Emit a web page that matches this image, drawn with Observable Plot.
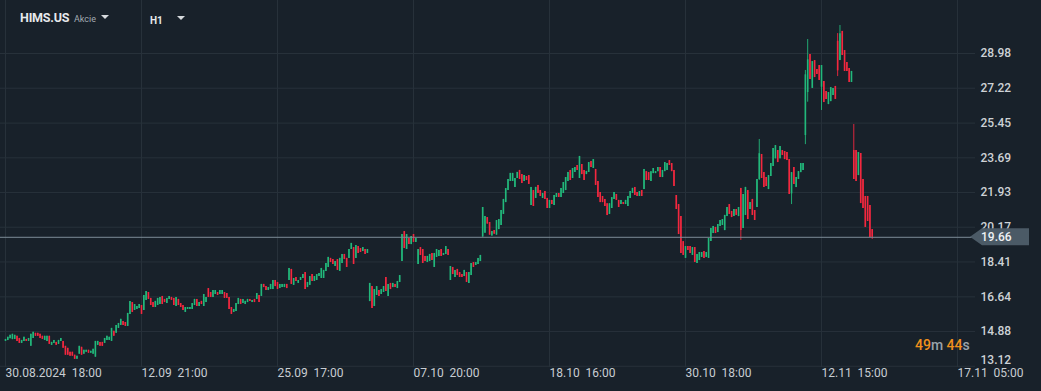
<!DOCTYPE html>
<html><head><meta charset="utf-8">
<script src="https://cdn.jsdelivr.net/npm/d3@7"></script>
<script src="https://cdn.jsdelivr.net/npm/@observablehq/plot@0.6"></script>
<style>
html,body{margin:0;padding:0;background:#18212a;}
#wrap{position:relative;width:1041px;height:391px;overflow:hidden;font-family:Roboto,"Noto Sans",sans-serif;}
#wrap .ov{position:absolute;white-space:pre;}
.sym{left:20px;top:11px;font-size:12.5px;line-height:13px;font-weight:700;color:#e6e9ec;letter-spacing:-0.2px;}
.typ{left:74px;top:14.5px;font-size:9px;line-height:9px;color:#a3abb2;}
.tf{left:150px;top:15.5px;font-size:10px;line-height:10px;font-weight:700;color:#e6e9ec;}
.tri{width:0;height:0;border-left:4px solid transparent;border-right:4px solid transparent;border-top:4px solid #d6dadd;}
.tmr{left:915px;top:338px;font-size:14px;line-height:14px;font-weight:500;color:#9aa3ab;}
.tmr b{color:#f0901c;font-weight:500;}
</style></head>
<body><div id="wrap"><div id="chart"></div>
<div class="ov sym">HIMS.US</div>
<div class="ov typ">Akcie</div>
<div class="ov tri" style="left:101px;top:15px"></div>
<div class="ov tf">H1</div>
<div class="ov tri" style="left:177px;top:16px"></div>
<div class="ov tmr"><b>49</b>m <b>44</b>s</div>
</div>
<script>
const timeTicks = [0, 59, 118, 177, 236, 295, 354, 413];
const timeLabels = ["30.08.2024\u00a0\u00a018:00","12.09\u00a0\u00a021:00","25.09\u00a0\u00a017:00","07.10\u00a0\u00a020:00","18.10\u00a0\u00a016:00","30.10\u00a0\u00a018:00","12.11\u00a0\u00a015:00","17.11\u00a0\u00a005:00"];
const priceTicks = [14.88, 16.64, 18.41, 20.17, 21.93, 23.69, 25.45, 27.22, 28.98];
const bottomTick = [13.12];

const open = [
14.38,14.42,14.52,14.47,14.48,14.64,14.53,14.28,14.38,14.48,
14.38,14.13,14.53,14.79,14.79,14.74,14.64,14.43,14.38,14.64,
14.18,14.28,14.33,14.23,14.38,14.38,14.13,14.03,13.83,13.83,
13.68,13.47,13.73,14.08,13.73,13.83,13.93,13.78,13.73,13.58,
14.18,14.33,14.33,14.28,14.43,14.43,14.38,14.89,14.79,15.04,
15.19,15.39,15.34,15.14,15.75,16.35,15.95,16.00,16.05,16.20,
15.95,16.46,16.86,16.56,16.35,16.10,16.20,16.25,16.66,16.51,
16.30,16.51,16.61,16.56,16.15,16.51,16.30,16.20,15.85,16.00,
16.00,16.00,16.20,16.51,16.15,16.41,16.15,16.35,17.06,16.86,
16.61,16.76,16.86,16.76,16.76,16.86,16.81,16.61,16.10,15.85,
15.90,16.25,16.51,16.30,16.25,16.35,16.51,16.35,16.51,16.51,
16.71,16.66,17.27,17.16,16.96,17.01,17.01,17.47,17.37,17.06,
17.11,17.11,17.27,17.47,18.03,17.22,17.62,17.32,17.47,17.57,
17.87,17.11,17.22,17.77,17.42,17.47,17.67,17.57,17.57,17.93,
18.13,18.59,18.53,18.18,18.53,17.93,18.33,18.79,18.59,18.59,
19.04,19.14,18.59,19.19,19.09,18.94,19.04,18.84,16.40,17.16,
16.15,16.71,16.96,16.76,16.86,17.62,16.66,17.32,17.11,17.27,
17.06,17.37,18.43,19.95,19.04,19.60,19.29,19.80,19.40,18.28,
19.14,19.04,18.69,18.38,18.43,18.84,18.13,18.64,18.69,19.04,
18.74,18.79,19.04,17.47,18.13,17.62,18.03,17.87,17.77,17.67,
17.87,17.32,17.72,18.38,18.23,18.28,18.43,19.67,19.87,20.66,
20.41,19.72,20.00,19.77,20.05,20.26,20.82,21.42,22.03,22.49,
22.49,22.19,22.64,23.05,22.84,22.49,22.74,22.79,21.27,22.03,
21.63,22.29,22.03,21.63,21.98,21.63,21.12,21.53,21.27,21.68,
21.88,21.68,21.88,22.03,22.49,23.05,22.64,22.95,23.30,22.64,
23.35,23.05,22.84,22.95,23.50,23.15,23.10,22.49,21.93,21.73,
21.58,21.36,20.82,21.12,21.58,21.83,21.53,21.32,21.42,21.32,
21.22,21.63,21.88,22.19,21.93,21.73,22.03,22.08,22.99,22.94,
22.49,22.89,22.89,22.99,23.20,22.69,22.99,23.05,23.55,23.40,
23.05,21.78,21.32,20.71,19.44,18.59,19.19,19.19,18.74,19.14,
18.33,18.48,18.64,18.94,18.64,18.59,19.45,19.85,20.16,19.90,
20.21,20.26,20.00,20.71,21.32,20.97,20.71,21.07,20.71,22.14,
20.11,20.77,22.03,21.07,21.58,21.02,21.17,22.59,23.86,22.94,
22.69,22.08,22.74,23.25,23.64,24.06,23.64,24.06,24.01,23.96,
23.60,21.86,23.20,22.18,22.59,22.94,23.05,24.82,27.00,28.93,
27.21,28.62,28.17,28.37,27.27,27.56,27.05,26.39,26.54,26.85,
27.31,29.60,28.62,30.10,29.13,28.52,28.22,27.51,24.06,24.06,
22.79,23.91,22.59,21.73,21.73,21.27,20.05];

const high = [
14.48,14.59,14.69,14.74,14.69,14.64,14.53,14.43,14.59,14.48,
14.53,14.74,14.84,14.79,14.79,14.74,14.64,14.64,14.64,14.64,
14.33,14.43,14.33,14.43,14.53,14.38,14.13,14.03,13.83,13.83,
13.68,13.63,14.13,14.08,13.93,13.93,13.93,13.88,13.98,14.38,
14.38,14.33,14.33,14.53,14.64,14.59,15.04,14.89,15.19,15.29,
15.50,15.39,15.34,15.80,16.40,16.35,16.25,16.15,16.25,16.20,
16.71,16.91,16.86,16.56,16.35,16.41,16.56,16.61,16.66,16.51,
16.56,16.66,16.61,16.56,16.61,16.51,16.30,16.20,16.10,16.10,
16.10,16.30,16.51,16.51,16.35,16.41,16.76,16.61,17.06,16.86,
16.96,16.96,16.86,16.96,16.96,16.86,16.81,16.61,16.10,16.00,
16.30,16.56,16.51,16.51,16.41,16.51,16.51,16.46,16.51,16.81,
16.71,17.27,17.27,17.16,17.11,17.27,17.47,17.47,17.37,17.27,
17.27,17.27,17.27,18.08,18.03,17.57,17.62,17.47,17.62,17.77,
17.87,17.37,17.67,17.77,17.67,17.77,17.82,18.08,17.98,18.33,
18.64,18.59,18.53,18.43,18.53,18.59,18.79,18.79,18.59,19.04,
19.35,19.14,19.24,19.19,19.09,19.14,19.04,19.04,17.32,17.16,
17.01,17.16,16.96,17.01,17.16,17.62,17.27,17.32,17.32,17.27,
17.42,17.72,19.80,19.95,19.80,19.60,19.70,19.80,19.60,19.04,
19.14,19.04,18.69,18.69,18.79,18.84,18.84,19.04,18.99,19.04,
18.84,19.19,19.04,18.18,18.13,17.98,18.03,17.87,17.77,17.98,
17.87,17.87,18.33,18.38,18.38,18.59,18.74,21.17,20.71,20.66,
20.41,19.95,20.00,20.51,20.56,21.02,21.58,22.13,22.59,22.90,
22.90,22.64,22.95,23.05,22.84,22.79,22.74,22.79,22.19,22.03,
22.19,22.29,22.03,21.88,21.98,21.63,21.53,21.53,21.78,21.88,
21.88,22.13,22.44,22.69,22.95,23.05,23.15,23.20,23.30,23.76,
23.35,23.05,23.00,23.45,23.50,23.60,23.10,22.49,21.93,21.73,
21.58,21.36,21.36,21.67,21.93,21.83,21.53,21.53,21.42,21.53,
21.73,21.98,22.14,22.19,21.93,21.98,22.03,23.10,22.99,22.94,
22.99,23.15,22.99,23.20,23.20,23.05,23.45,23.40,23.55,23.40,
23.05,21.78,21.32,20.71,19.44,19.19,19.19,19.19,19.14,19.14,
18.79,18.89,18.89,18.94,18.89,19.60,20.11,20.21,20.16,20.31,
20.51,20.56,20.77,21.17,21.32,20.97,21.07,21.07,21.17,22.14,
21.83,22.19,22.03,21.42,21.58,21.02,22.59,24.62,23.86,22.94,
22.69,22.79,23.40,24.16,24.31,24.06,24.26,24.06,24.01,23.96,
23.60,22.94,23.20,22.69,22.99,23.40,23.40,28.12,29.69,28.93,
28.57,28.62,28.17,28.37,28.37,27.56,27.05,27.00,27.25,27.20,
27.31,29.99,30.40,30.10,29.13,28.52,28.22,28.07,25.38,24.06,
23.96,23.91,22.59,21.73,21.73,21.27,20.05];

const low = [
14.38,14.42,14.52,14.47,14.48,14.38,14.28,14.28,14.38,14.38,
14.38,14.13,14.53,14.64,14.64,14.53,14.48,14.43,14.38,14.23,
14.18,14.28,14.18,14.23,14.38,14.03,13.68,13.68,13.63,13.63,
13.47,13.47,13.73,13.68,13.73,13.83,13.78,13.78,13.73,13.58,
14.18,14.13,14.13,14.28,14.43,14.43,14.38,14.64,14.79,15.04,
15.19,15.19,15.14,15.14,15.75,15.85,15.95,16.00,16.05,15.75,
15.95,16.46,16.51,16.20,16.10,16.10,16.20,16.25,16.25,16.35,
16.30,16.51,16.46,16.20,16.15,16.20,16.10,15.95,15.85,16.00,
16.00,16.00,16.20,16.15,16.15,16.25,16.15,16.35,16.61,16.61,
16.61,16.76,16.71,16.76,16.76,16.56,16.56,16.00,15.75,15.85,
15.90,16.25,16.25,16.30,16.25,16.35,16.41,16.35,16.35,16.51,
16.35,16.66,17.11,16.96,16.96,17.01,17.01,17.16,17.01,17.06,
17.11,17.11,17.06,17.47,17.27,17.22,17.42,17.32,17.47,17.57,
17.01,17.11,17.22,17.42,17.42,17.47,17.67,17.57,17.57,17.93,
18.13,18.38,18.28,18.18,17.98,17.93,18.33,18.53,18.13,18.59,
19.04,18.28,18.59,18.84,18.89,18.94,18.79,18.84,16.40,16.05,
16.15,16.71,16.66,16.76,16.86,16.91,16.66,17.01,17.11,17.11,
17.06,17.37,18.43,19.09,19.04,19.29,19.29,19.40,19.40,18.28,
18.74,18.33,18.43,18.38,18.43,18.48,18.13,18.64,18.69,18.69,
18.74,18.79,18.74,17.47,17.77,17.62,17.72,17.62,17.62,17.67,
17.37,17.32,17.72,18.13,18.23,18.28,18.43,19.67,19.87,20.33,
19.77,19.72,19.82,19.77,20.05,20.26,20.82,21.42,22.03,22.49,
22.49,22.19,22.64,22.59,22.39,22.49,22.54,22.34,21.27,21.22,
21.63,21.88,21.73,21.63,21.58,21.12,21.12,21.32,21.27,21.68,
21.68,21.68,21.88,22.03,22.49,22.54,22.64,22.95,23.05,22.64,
22.84,22.54,22.84,22.95,23.20,23.15,22.29,21.68,21.42,21.42,
21.22,20.76,20.82,21.12,21.58,21.53,21.17,21.32,21.32,21.32,
21.22,21.63,21.88,21.78,21.73,21.73,21.73,22.08,22.54,22.54,
22.49,22.89,22.89,22.99,22.69,22.69,22.99,23.05,23.30,22.99,
22.24,21.07,19.80,18.84,18.74,18.59,18.99,18.84,18.74,18.38,
18.33,18.48,18.64,18.59,18.64,18.59,19.45,19.85,19.85,19.90,
20.21,20.26,20.00,20.71,20.82,20.66,20.71,20.77,20.71,19.50,
20.11,20.77,20.56,21.07,20.77,20.51,21.17,22.54,22.64,22.19,
22.24,22.08,22.74,23.25,23.64,23.45,23.64,23.81,23.60,23.55,
21.83,21.32,22.34,22.18,22.59,22.94,23.05,24.36,26.51,27.66,
27.21,27.76,27.92,27.61,26.09,26.49,26.65,26.39,26.54,26.85,
26.65,27.81,28.62,28.88,28.07,28.07,27.51,27.51,22.59,22.49,
22.79,21.37,21.12,20.16,20.46,19.65,19.55];

const close = [
14.48,14.59,14.69,14.74,14.69,14.38,14.28,14.43,14.59,14.38,
14.53,14.74,14.84,14.64,14.64,14.53,14.48,14.64,14.64,14.23,
14.33,14.43,14.18,14.43,14.53,14.03,13.68,13.68,13.63,13.63,
13.47,13.63,14.13,13.68,13.93,13.93,13.78,13.88,13.98,14.38,
14.38,14.13,14.13,14.53,14.64,14.59,15.04,14.64,15.19,15.29,
15.50,15.19,15.14,15.80,16.40,15.85,16.25,16.15,16.25,15.75,
16.71,16.91,16.51,16.20,16.10,16.41,16.56,16.61,16.25,16.35,
16.56,16.66,16.46,16.20,16.61,16.20,16.10,15.95,16.10,16.10,
16.10,16.30,16.51,16.15,16.35,16.25,16.76,16.61,16.61,16.61,
16.96,16.96,16.71,16.96,16.96,16.56,16.56,16.00,15.75,16.00,
16.30,16.56,16.25,16.51,16.41,16.51,16.41,16.46,16.35,16.81,
16.35,17.27,17.11,16.96,17.11,17.27,17.47,17.16,17.01,17.27,
17.27,17.27,17.06,18.08,17.27,17.57,17.42,17.47,17.62,17.77,
17.01,17.37,17.67,17.42,17.67,17.77,17.82,18.08,17.98,18.33,
18.64,18.38,18.28,18.43,17.98,18.59,18.79,18.53,18.13,19.04,
19.35,18.28,19.24,18.84,18.89,19.14,18.79,19.04,17.32,16.05,
17.01,17.16,16.66,17.01,17.16,16.91,17.27,17.01,17.32,17.11,
17.42,17.72,19.80,19.09,19.80,19.29,19.70,19.40,19.60,19.04,
18.74,18.33,18.43,18.69,18.79,18.48,18.84,19.04,18.99,18.69,
18.84,19.19,18.74,18.18,17.77,17.98,17.72,17.62,17.62,17.98,
17.37,17.87,18.33,18.13,18.38,18.59,18.74,21.17,20.71,20.33,
19.77,19.95,19.82,20.51,20.56,21.02,21.58,22.13,22.59,22.90,
22.90,22.64,22.95,22.59,22.39,22.79,22.54,22.34,22.19,21.22,
22.19,21.88,21.73,21.88,21.58,21.12,21.53,21.32,21.78,21.88,
21.68,22.13,22.44,22.69,22.95,22.54,23.15,23.20,23.05,23.76,
22.84,22.54,23.00,23.45,23.20,23.60,22.29,21.68,21.42,21.42,
21.22,20.76,21.36,21.67,21.93,21.53,21.17,21.53,21.32,21.53,
21.73,21.98,22.14,21.78,21.73,21.98,21.73,23.10,22.54,22.54,
22.99,23.15,22.99,23.20,22.69,23.05,23.45,23.40,23.30,22.99,
22.24,21.07,19.80,18.84,18.74,19.19,18.99,18.84,19.14,18.38,
18.79,18.89,18.89,18.59,18.89,19.60,20.11,20.21,19.85,20.31,
20.51,20.56,20.77,21.17,20.82,20.66,21.07,20.77,21.17,20.00,
21.83,22.19,20.56,21.42,20.77,20.51,22.59,23.90,22.64,22.19,
22.24,22.79,23.40,24.16,24.31,23.45,24.26,23.81,23.60,23.55,
21.83,22.94,22.34,22.69,22.99,23.40,23.40,27.90,28.66,27.66,
28.57,27.76,27.92,27.61,28.37,26.49,26.65,27.00,27.25,27.20,
26.65,28.10,29.98,28.88,28.07,28.07,27.51,28.07,22.59,22.49,
23.96,21.37,21.12,20.16,20.46,19.65,19.66];

const UP = "#22b87b", DOWN = "#f3283f";
const bars = open.map((o, i) => ({i, open: o, high: high[i], low: low[i], close: close[i]}));
const lastPrice = close[close.length - 1];
const labelOf = new Map(timeTicks.map((t, k) => [t, timeLabels[k]]));
const col = d => d.close >= d.open ? UP : DOWN;

const priceTag = (index, scales, values, dims) => {
  const y = scales.y(lastPrice);
  const x0 = dims.width - dims.marginRight - 5;
  const g = d3.create("svg:g");
  g.append("path")
    .attr("d", `M${x0},${y}L${x0 + 12},${y - 8.5}L${x0 + 59},${y - 8.5}L${x0 + 59},${y + 8.5}L${x0 + 12},${y + 8.5}Z`)
    .attr("fill", "#4b5a66");
  g.append("text").attr("x", x0 + 11).attr("y", y).attr("dy", "0.35em")
    .attr("text-anchor", "start")
    .attr("fill", "#eef1f3").attr("font-size", 12).attr("font-weight", 500)
    .text(lastPrice.toFixed(2));
  return g.node();
};

const chart = Plot.plot({
  width: 1041, height: 391,
  marginLeft: 0, marginRight: 66, marginTop: 0, marginBottom: 24,
  style: {background: "#18212a", color: "#c9ced3", fontFamily: "Roboto, sans-serif", fontSize: "12px"},
  x: {type: "linear", domain: [-2.17, 420.8], axis: null, label: null},
  y: {domain: [13.057, 31.668], axis: null, label: null},
  marks: [
    Plot.gridX(timeTicks, {stroke: "#27313a", strokeOpacity: 1}),
    Plot.gridY([...bottomTick, ...priceTicks], {stroke: "#27313a", strokeOpacity: 1}),
    Plot.axisX(timeTicks, {anchor: "bottom", label: null, tickSize: 0, tickPadding: 1, textAnchor: "start",
      tickFormat: d => labelOf.get(d), fill: "#c8cdd2", fontSize: 12}),
    Plot.axisY(priceTicks, {anchor: "right", label: null, tickSize: 0, tickPadding: 5, tickFormat: d => d.toFixed(2),
      fill: "#cdd2d6", fontWeight: 500, fontSize: 12}),
    Plot.axisY(bottomTick, {anchor: "right", label: null, tickSize: 0, tickPadding: 5, tickFormat: d => d.toFixed(2),
      fill: "#cdd2d6", fontWeight: 500, fontSize: 12, dy: -6}),
    Plot.ruleX(bars, {x: "i", y1: "low", y2: "high", stroke: col, strokeWidth: 0.9}),
    Plot.ruleX(bars, {x: "i", y1: "open", y2: "close", stroke: col, strokeWidth: 1.6}),
    Plot.ruleY([lastPrice], {stroke: "#7e8d98", strokeWidth: 1}),
    priceTag
  ]
});
document.getElementById("chart").appendChild(chart);
</script>
</body></html>
